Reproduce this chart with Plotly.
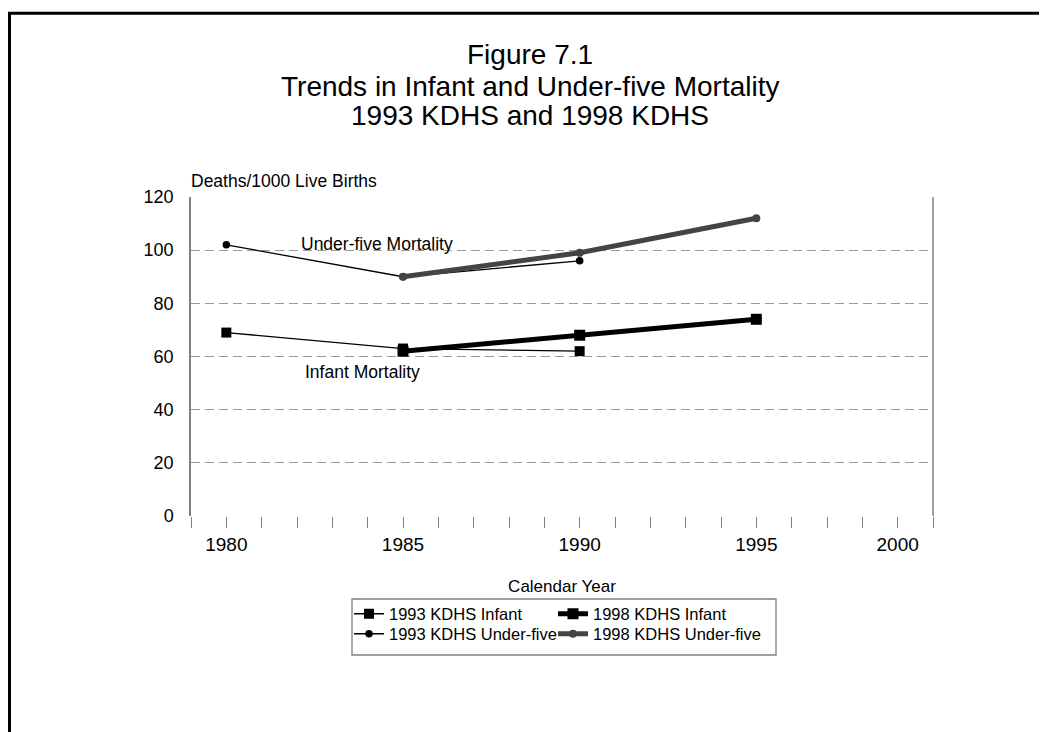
import plotly.graph_objects as go

# ---- data ----
years_1993 = [1980, 1985, 1990]
years_1998 = [1985, 1990, 1995]
infant_1993 = [69, 63, 62]
infant_1998 = [62, 68, 74]
under5_1993 = [102, 90, 96]
under5_1998 = [90, 99, 112]

tick_years = list(range(1979, 2001))
label_positions = [1980, 1985, 1990, 1995, 1999]
label_texts = ["1980", "1985", "1990", "1995", "2000"]
y_ticks = [0, 20, 40, 60, 80, 100, 120]

FONT = "Liberation Sans, Arial, sans-serif"
OFF = 8  # default body margin of the html page
W, H = 1047 - OFF, 732 - OFF
ML, MR, MT, MB = 183, 114, 189, 216
PW, PH = W - ML - MR, H - MT - MB


def px_x(wx):
    return (wx - OFF - ML) / PW


def px_y(wy):
    return (H - MB - (wy - OFF)) / PH


ticktext = [label_texts[label_positions.index(v)] if v in label_positions else "" for v in tick_years]

fig = go.Figure()

fig.add_trace(go.Scatter(
    x=years_1993, y=infant_1993, name="1993 KDHS Infant", mode="lines+markers",
    line=dict(color="black", width=1.3),
    marker=dict(symbol="square", size=10, color="black"),
    legend="legend",
))
fig.add_trace(go.Scatter(
    x=years_1998, y=infant_1998, name="1998 KDHS Infant", mode="lines+markers",
    line=dict(color="black", width=5),
    marker=dict(symbol="square", size=11, color="black"),
    legend="legend2",
))
fig.add_trace(go.Scatter(
    x=years_1993, y=under5_1993, name="1993 KDHS Under-five", mode="lines+markers",
    line=dict(color="black", width=1.3),
    marker=dict(symbol="circle", size=7.5, color="black"),
    legend="legend3",
))
fig.add_trace(go.Scatter(
    x=years_1998, y=under5_1998, name="1998 KDHS Under-five", mode="lines+markers",
    line=dict(color="#444444", width=5),
    marker=dict(symbol="circle", size=8, color="#444444"),
    legend="legend4",
))

legend_common = dict(
    orientation="h", xanchor="left", yanchor="middle",
    font=dict(family=FONT, size=16.5, color="black"),
    bgcolor="rgba(0,0,0,0)", borderwidth=0, itemwidth=30,
    itemclick=False, itemdoubleclick=False,
)

annotations = [
    dict(text="Figure 7.1", x=px_x(530), y=px_y(55)),
    dict(text="Trends in Infant and Under-five Mortality", x=px_x(530), y=px_y(86)),
    dict(text="1993 KDHS and 1998 KDHS", x=px_x(530), y=px_y(115.5)),
]
annotations = [dict(a, xref="paper", yref="paper", showarrow=False, xanchor="center",
                    yanchor="middle", font=dict(family=FONT, size=28, color="black"))
               for a in annotations]
annotations += [
    dict(text="Deaths/1000 Live Births", xref="paper", yref="paper", x=0, y=px_y(181),
         xanchor="left", yanchor="middle", showarrow=False, xshift=-2,
         font=dict(family=FONT, size=17.5, color="black")),
    dict(text="Under-five Mortality", xref="x", yref="y", x=1984.27, y=102.3,
         showarrow=False, xanchor="center", yanchor="middle",
         font=dict(family=FONT, size=17.5, color="black")),
    dict(text="Infant Mortality", xref="x", yref="y", x=1983.85, y=54.1,
         showarrow=False, xanchor="center", yanchor="middle",
         font=dict(family=FONT, size=17.5, color="black")),
]

shapes = [
    # outer frame (extends past right/bottom edge of page)
    dict(type="rect", xref="paper", yref="paper",
         x0=px_x(9.5), x1=px_x(1070), y0=px_y(760), y1=px_y(13.3),
         line=dict(color="black", width=3), fillcolor="rgba(0,0,0,0)", layer="below"),
    # right border of plot area
    dict(type="line", xref="paper", yref="paper", x0=1, x1=1, y0=0, y1=1,
         line=dict(color="#808080", width=1.5)),
    # legend box
    dict(type="rect", xref="paper", yref="paper",
         x0=px_x(352), x1=px_x(776), y0=px_y(655), y1=px_y(599),
         line=dict(color="#808080", width=1.3), fillcolor="rgba(0,0,0,0)"),
]

fig.update_layout(
    width=W, height=H,
    margin=dict(l=ML, r=MR, t=MT, b=MB, autoexpand=False),
    paper_bgcolor="white", plot_bgcolor="white",
    font=dict(family=FONT, size=18, color="black"),
    showlegend=True,
    legend=dict(legend_common, x=px_x(349), y=px_y(614)),
    legend2=dict(legend_common, x=px_x(553), y=px_y(614)),
    legend3=dict(legend_common, x=px_x(349), y=px_y(634)),
    legend4=dict(legend_common, x=px_x(553), y=px_y(634)),
    annotations=annotations,
    shapes=shapes,
    xaxis=dict(
        range=[1979, 2000], tickmode="array", tickvals=tick_years, ticktext=ticktext,
        ticks="outside", ticklen=11, tickwidth=1.3, tickcolor="#808080",
        showline=False, showgrid=False, zeroline=False,
        tickfont=dict(family=FONT, size=19, color="black"),
        title=dict(text="Calendar Year", font=dict(family=FONT, size=17, color="black"), standoff=26),
    ),
    yaxis=dict(
        range=[0, 120], tickmode="array", tickvals=y_ticks,
        showline=True, linecolor="#808080", linewidth=1.5,
        showgrid=True, gridcolor="#999999", gridwidth=1.3, griddash="9px,5px",
        zeroline=False, ticks="", ticklabelstandoff=12,
        tickfont=dict(family=FONT, size=18, color="black"),
    ),
)

fig.write_html("out.html")
